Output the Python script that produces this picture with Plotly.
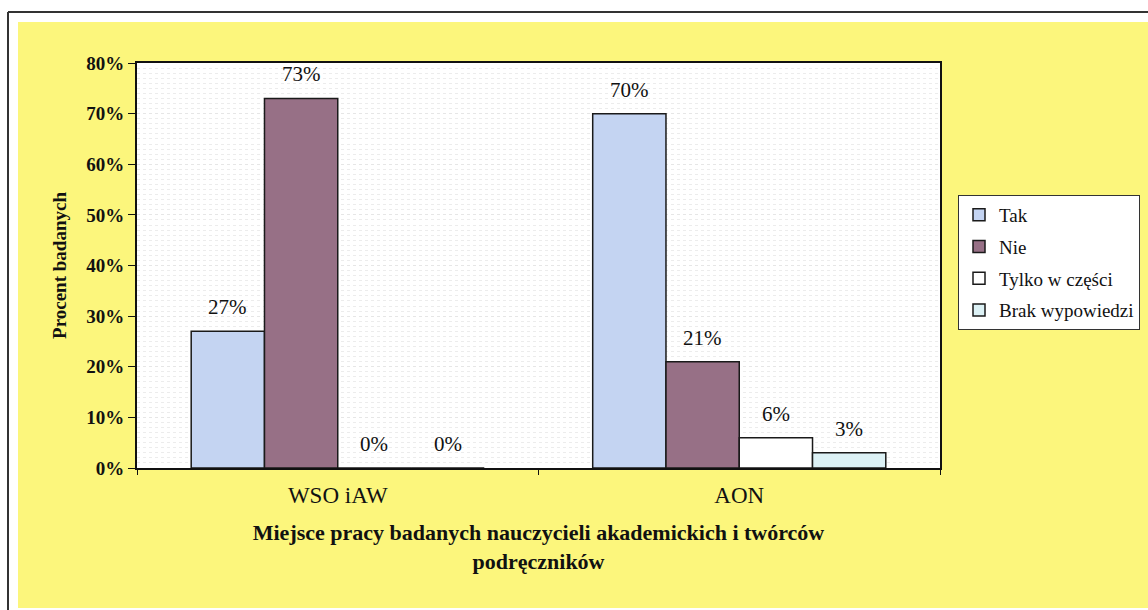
import plotly.graph_objects as go

categories = ["WSO iAW", "AON"]
series_names = ["Tak", "Nie", "Tylko w części", "Brak wypowiedzi"]
tak = [0.27, 0.70]
nie = [0.73, 0.21]
tylko = [0.0, 0.06]
brak = [0.0, 0.03]
y_ticks = [0, 0.1, 0.2, 0.3, 0.4, 0.5, 0.6, 0.7, 0.8]
y_tick_labels = ["0%", "10%", "20%", "30%", "40%", "50%", "60%", "70%", "80%"]

series_values = [tak, nie, tylko, brak]
colors = ["#c4d4f2", "#977086", "#ffffff", "#dcf1f5"]

W, H = 1148, 610
L, R, T, B = 137, 208, 63, 142
pw, ph = W - L - R, H - T - B
BARGAP = 0.27
bar_px = pw / len(categories) * (1 - BARGAP) / len(series_names)

def px_x(p):
    return (p - L) / pw

def px_y(p):
    return (H - B - p) / ph

FONT = "Liberation Serif, Times New Roman, serif"

fig = go.Figure()
annotations = []
for i, (name, vals) in enumerate(zip(series_names, series_values)):
    fig.add_trace(go.Bar(
        x=categories, y=vals, name=name,
        marker=dict(color=colors[i], line=dict(color="#1a1a1a", width=1.5)),
        legendgroup=name,
    ))
    for c, v in zip(categories, vals):
        annotations.append(dict(
            x=c, y=v, xref="x", yref="y",
            text=f"{round(v*100)}%", showarrow=False,
            xshift=(i - (len(series_names) - 1) / 2) * bar_px,
            yshift=24, yanchor="middle",
            font=dict(family=FONT, size=21, color="#111"),
        ))

shapes = [
    dict(type="rect", xref="paper", yref="paper", layer="below",
         x0=px_x(18), x1=px_x(1160), y0=px_y(608), y1=px_y(22),
         fillcolor="#fcf67c", line=dict(width=0)),
    dict(type="rect", xref="paper", yref="paper", layer="below",
         x0=0, x1=1, y0=0, y1=1, fillcolor="#ffffff", line=dict(width=0)),
    dict(type="line", xref="paper", yref="paper",
         x0=px_x(8), x1=px_x(8), y0=px_y(612), y1=px_y(12),
         line=dict(color="#333", width=2)),
    dict(type="line", xref="paper", yref="paper",
         x0=px_x(8), x1=px_x(1160), y0=px_y(12), y1=px_y(12),
         line=dict(color="#333", width=2)),
]

fig.update_layout(
    width=W, height=H,
    margin=dict(l=L, r=R, t=T, b=B, pad=0, autoexpand=False),
    paper_bgcolor="#ffffff",
    plot_bgcolor="#ffffff",
    barmode="group",
    bargap=BARGAP,
    bargroupgap=0,
    shapes=shapes,
    annotations=annotations,
    font=dict(family=FONT, color="#111"),
    legend=dict(
        x=px_x(958), y=px_y(195), xanchor="left", yanchor="top",
        bgcolor="#ffffff", bordercolor="#333", borderwidth=1,
        font=dict(family=FONT, size=19, color="#111"),
        tracegroupgap=4,
        traceorder="grouped",
    ),
    xaxis=dict(
        showline=True, linecolor="#111", linewidth=2, mirror=True,
        ticks="outside", tickson="boundaries", ticklen=5, tickcolor="#111",
        ticklabelstandoff=5,
        tickfont=dict(family=FONT, size=23, color="#111"),
        title=dict(
            text="<b>Miejsce pracy badanych nauczycieli akademickich i twórców<br>podręczników</b>",
            font=dict(family=FONT, size=22, color="#111"),
            standoff=18,
        ),
    ),
    yaxis=dict(
        range=[0, 0.8],
        tickvals=y_ticks, ticktext=[f"<b>{t}</b>" for t in y_tick_labels],
        showline=True, linecolor="#111", linewidth=2, mirror=True,
        ticks="outside", ticklen=7, tickcolor="#111",
        tickfont=dict(family=FONT, size=19, color="#111"),
        showgrid=True, gridcolor="#e6e6e6", griddash="dot", gridwidth=1,
        minor=dict(dtick=0.01, showgrid=True, gridcolor="#ececec", griddash="dot", gridwidth=1),
        zeroline=False,
        title=dict(text="<b>Procent badanych</b>",
                   font=dict(family=FONT, size=19, color="#111"), standoff=15),
    ),
)

fig.write_html("out.html", config={"displayModeBar": False},
               post_script="document.body.style.margin='0px';")
